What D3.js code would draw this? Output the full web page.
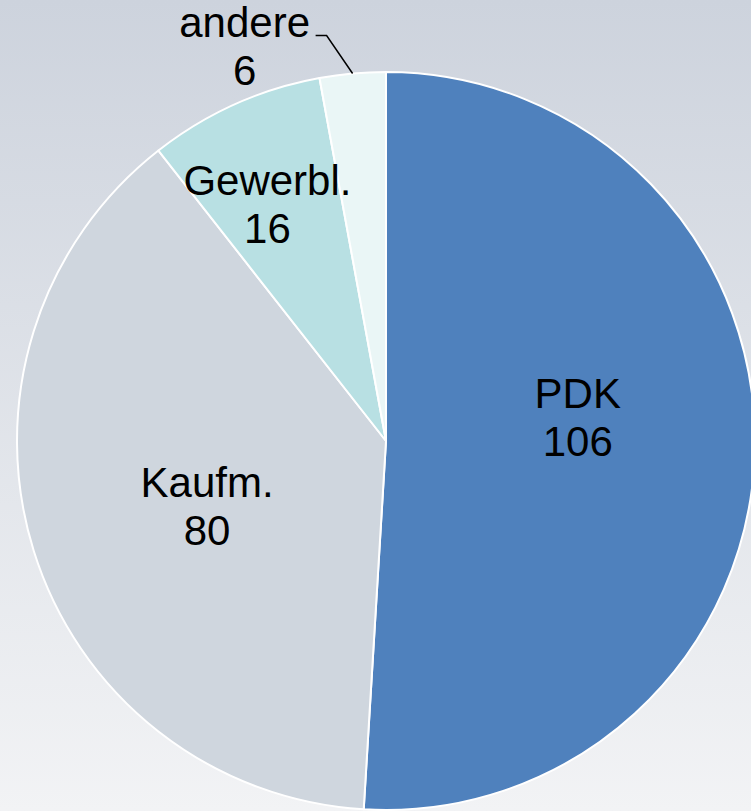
<!DOCTYPE html>
<html>
<head>
<meta charset="utf-8">
<script src="https://cdn.jsdelivr.net/npm/d3@7"></script>
<style>
  html, body { margin: 0; padding: 0; overflow: hidden; }
</style>
</head>
<body>
<div id="chart"></div>
<script>
// data
const categories = ['PDK', 'Kaufm.', 'Gewerbl.', 'andere']
const values = [106, 80, 16, 6]
const colors = ['#4f81bd', '#cfd6de', '#b8e0e3', '#eaf6f6']

const width = 751
const height = 811
const cx = 386
const cy = 441
const radius = 369
const fontSize = 42
const lineGap = 48

const data = categories.map((c, i) => ({ name: c, value: values[i] }))

const svg = d3.select('#chart')
    .append('svg')
    .attr('width', width)
    .attr('height', height)
    .style('font-family', 'Liberation Sans, Arial, sans-serif')

// background gradient
const grad = svg.append('defs').append('linearGradient')
    .attr('id', 'bg')
    .attr('x1', 0).attr('y1', 0)
    .attr('x2', 0).attr('y2', 1)
grad.append('stop').attr('offset', '0%').attr('stop-color', '#cdd3dd')
grad.append('stop').attr('offset', '100%').attr('stop-color', '#f2f3f5')

svg.append('rect')
    .attr('width', width)
    .attr('height', height)
    .attr('fill', 'url(#bg)')

const pie = d3.pie()
    .sort(null)
    .value(d => d.value)

const arcs = pie(data)

const arc = d3.arc()
    .innerRadius(0)
    .outerRadius(radius)

const g = svg.append('g')
    .attr('transform', `translate(${cx},${cy})`)

g.selectAll('path')
    .data(arcs)
    .join('path')
    .attr('d', arc)
    .attr('fill', (d, i) => colors[i])
    .attr('stroke', '#ffffff')
    .attr('stroke-width', 2)
    .attr('stroke-linejoin', 'round')

// inside labels: radius factor + vertical shift per slice
const labelRadius = [0.52, 0.508, 0.783]
const labelShift = [-39, 0, 17]

arcs.slice(0, 3).forEach((d, i) => {
    const r = radius * labelRadius[i]
    const [x, y] = d3.arc().innerRadius(r).outerRadius(r).centroid(d)
    const t = g.append('text')
        .attr('text-anchor', 'middle')
        .attr('font-size', fontSize)
        .attr('fill', '#000')
    t.append('tspan')
        .attr('x', x)
        .attr('y', y + labelShift[i])
        .text(d.data.name)
    t.append('tspan')
        .attr('x', x)
        .attr('y', y + labelShift[i] + lineGap)
        .text(d.data.value)
})

// small slice: outside label with leader line
const small = arcs[3]
const pt = d3.arc().innerRadius(radius).outerRadius(radius).centroid(small)
const elbow = [pt[0] - 26, pt[1] - 38]
const end = [elbow[0] - 11, elbow[1]]

g.append('polyline')
    .attr('points', [pt, elbow, end].map(p => p.join(',')).join(' '))
    .attr('fill', 'none')
    .attr('stroke', '#000')
    .attr('stroke-width', 1.5)

const tx = end[0] - 71
const t2 = g.append('text')
    .attr('text-anchor', 'middle')
    .attr('font-size', fontSize)
    .attr('fill', '#000')
t2.append('tspan')
    .attr('x', tx)
    .attr('y', end[1] + 1)
    .text(small.data.name)
t2.append('tspan')
    .attr('x', tx)
    .attr('y', end[1] + 1 + lineGap)
    .text(small.data.value)
</script>
</body>
</html>
